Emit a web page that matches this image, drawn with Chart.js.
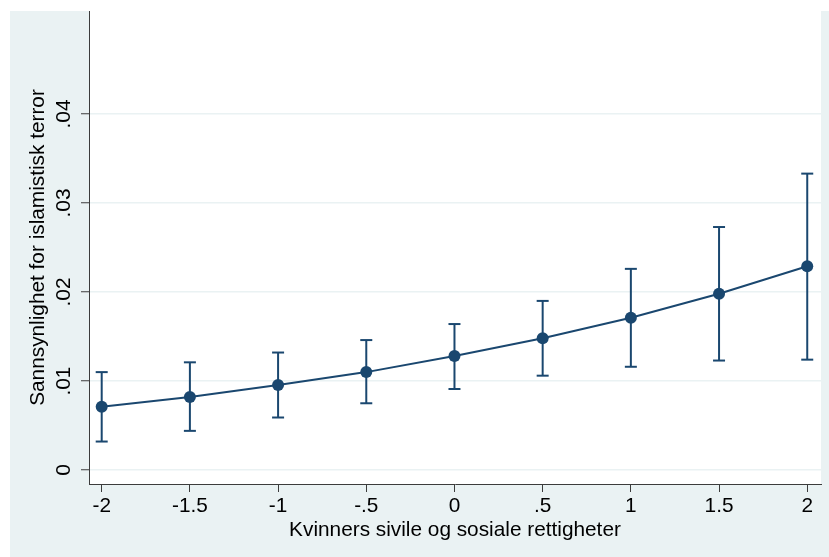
<!DOCTYPE html>
<html>
<head>
<meta charset="utf-8">
<script src="https://cdn.jsdelivr.net/npm/chart.js@4"></script>
<style>
html,body{margin:0;padding:0;background:#ffffff;}
#wrap{width:829px;height:557px;}
</style>
</head>
<body>
<div id="wrap"><canvas id="c" width="829" height="557"></canvas></div>
<script>
// ---- data ----
const xValues = [-2, -1.5, -1, -0.5, 0, 0.5, 1, 1.5, 2];
const xTickLabels = ["-2", "-1.5", "-1", "-.5", "0", ".5", "1", "1.5", "2"];
const estimate = [0.0071, 0.0082, 0.00955, 0.0110, 0.0128, 0.0148, 0.0171, 0.0198, 0.0229];
const lower = [0.0032, 0.0044, 0.0059, 0.0075, 0.0091, 0.0106, 0.0116, 0.0123, 0.0124];
const upper = [0.0110, 0.0121, 0.0132, 0.0146, 0.0164, 0.0190, 0.0226, 0.0273, 0.0333];
const yTickValues = [0, 0.01, 0.02, 0.03, 0.04];
const yTickLabels = ["0", ".01", ".02", ".03", ".04"];
const xTitle = "Kvinners sivile og sosiale rettigheter";
const yTitle = "Sannsynlighet for islamistisk terror";

// ---- styles ----
const NAVY = '#1A476F';
const BG = '#EAF2F3';
const AXIS = '#3c3c3c';
const FONT = {family: '"Liberation Sans", Arial, Helvetica, sans-serif', size: 20.8};

const datasets = [];
// main line with markers
datasets.push({
  type: 'line',
  label: 'estimate',
  data: xValues.map((x, i) => ({x: x, y: estimate[i]})),
  borderColor: NAVY,
  backgroundColor: NAVY,
  borderWidth: 2,
  pointRadius: 6,
  pointBackgroundColor: NAVY,
  pointBorderColor: NAVY,
  pointBorderWidth: 0,
  tension: 0,
  order: 0
});
// error bars: one segment per category, caps via 'line' point style
xValues.forEach((x, i) => {
  datasets.push({
    type: 'line',
    label: 'ci' + i,
    data: [{x: x, y: lower[i]}, {x: x, y: upper[i]}],
    borderColor: NAVY,
    borderWidth: 2,
    pointStyle: 'line',
    pointRadius: 6,
    pointBorderColor: NAVY,
    pointBorderWidth: 2,
    tension: 0,
    order: 1
  });
});

const bgPlugin = {
  id: 'bg',
  beforeDraw(chart) {
    const {ctx, width, height, chartArea} = chart;
    ctx.save();
    ctx.fillStyle = '#ffffff';
    ctx.fillRect(0, 0, width, height);
    ctx.fillStyle = BG;
    ctx.fillRect(10, 11, width - 10, height - 11);
    ctx.fillStyle = '#ffffff';
    ctx.fillRect(chartArea.left, chartArea.top, chartArea.right - chartArea.left, chartArea.bottom - chartArea.top);
    ctx.restore();
  }
};

new Chart(document.getElementById('c'), {
  type: 'line',
  data: {datasets: datasets},
  plugins: [bgPlugin],
  options: {
    responsive: false,
    animation: false,
    events: [],
    layout: {padding: {left: 0, top: 11, right: 8, bottom: 0}},
    plugins: {legend: {display: false}, tooltip: {enabled: false}},
    scales: {
      x: {
        type: 'linear',
        min: -2.072,
        max: 2.078,
        afterBuildTicks(scale) { scale.ticks = xValues.map(v => ({value: v})); },
        afterFit(scale) { scale.height = 73; scale.paddingLeft = 0; scale.paddingRight = 0; },
        ticks: {
          color: '#000',
          font: FONT,
          padding: 2,
          maxRotation: 0,
          autoSkip: false,
          callback: (v, i) => xTickLabels[i]
        },
        grid: {drawOnChartArea: false, drawTicks: true, tickLength: 8, tickColor: AXIS, tickWidth: 1},
        border: {display: true, color: AXIS, width: 1},
        title: {display: true, text: xTitle, color: '#000', font: FONT, padding: {top: 0, bottom: 14}}
      },
      y: {
        type: 'linear',
        min: -0.00157,
        max: 0.05157,
        afterBuildTicks(scale) { scale.ticks = yTickValues.map(v => ({value: v})); },
        afterFit(scale) { scale.width = 89; scale.paddingTop = 0; scale.paddingBottom = 0; },
        ticks: {
          color: '#000',
          font: FONT,
          padding: 2,
          minRotation: 90,
          maxRotation: 90,
          crossAlign: 'center',
          autoSkip: false,
          callback: (v, i) => yTickLabels[i]
        },
        grid: {color: BG, lineWidth: 1.5, drawTicks: true, tickLength: 8, tickColor: AXIS, tickWidth: 1},
        border: {display: true, color: AXIS, width: 1},
        title: {display: true, text: yTitle, color: '#000', font: FONT, padding: {top: 26, bottom: 0}}
      }
    }
  }
});
</script>
</body>
</html>
